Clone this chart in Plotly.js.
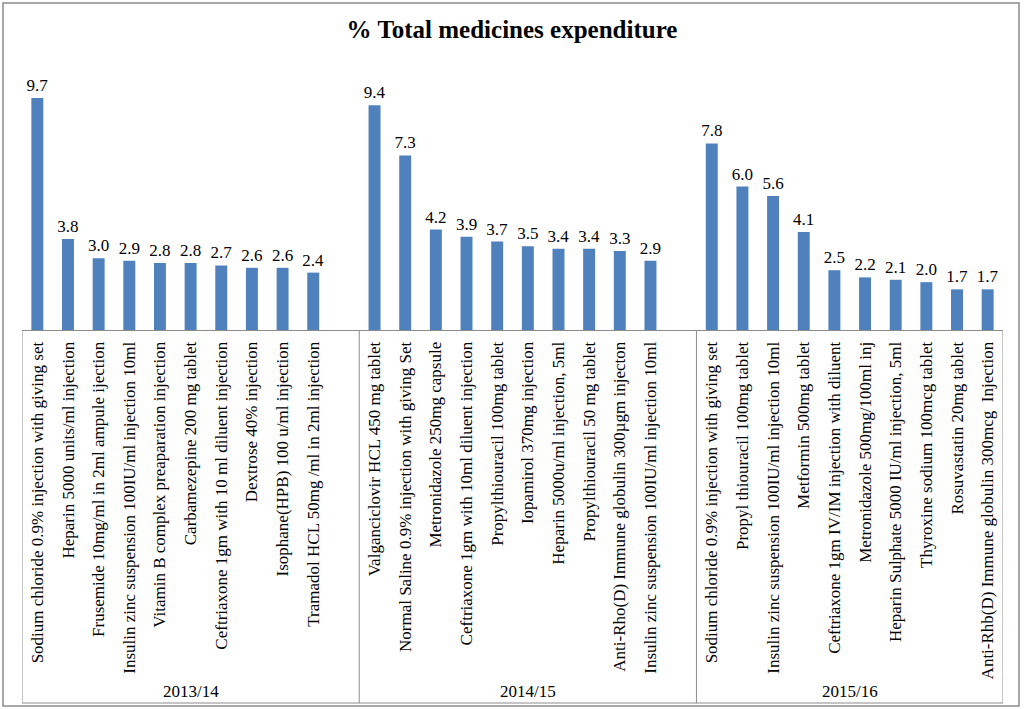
<!DOCTYPE html>
<html>
<head>
<meta charset="utf-8">
<script src="https://cdn.plot.ly/plotly-3.0.1.min.js"></script>
<style>html,body{margin:0;padding:0;background:#fff;}#chart{width:1024px;height:709px;}</style>
</head>
<body>
<div id="chart"></div>
<script>
var groups = ["2013/14", "2014/15", "2015/16"];

var cats2013 = [
  "Sodium chloride 0.9% injection with giving set",
  "Heparin 5000 units/ml injection",
  "Frusemide 10mg/ml in 2ml ampule ijection",
  "Insulin zinc suspension 100IU/ml injection 10ml",
  "Vitamin B complex preaparation injection",
  "Carbamezepine 200 mg tablet",
  "Ceftriaxone 1gm with 10 ml diluent injection",
  "Dextrose 40% injection",
  "Isophane(HPB) 100 u/ml injection",
  "Tramadol HCL 50mg /ml in 2ml injection"
];
var vals2013 = [9.7, 3.8, 3.0, 2.9, 2.8, 2.8, 2.7, 2.6, 2.6, 2.4];

var cats2014 = [
  "Valganciclovir HCL 450 mg tablet",
  "Normal Saline 0.9% injection with giving Set",
  "Metronidazole 250mg capsule",
  "Ceftriaxone 1gm with 10ml diluent injection",
  "Propylthiouracil 100mg tablet",
  "Iopamirol 370mg injection",
  "Heparin 5000u/ml injection, 5ml",
  "Propylthiouracil 50 mg tablet",
  "Anti-Rho(D) Immune globulin 300µgm injecton",
  "Insulin zinc suspension 100IU/ml injection 10ml"
];
var vals2014 = [9.4, 7.3, 4.2, 3.9, 3.7, 3.5, 3.4, 3.4, 3.3, 2.9];

var cats2015 = [
  "Sodium chloride 0.9% injection with giving set",
  "Propyl thiouracil 100mg tablet",
  "Insulin zinc suspension 100IU/ml injection 10ml",
  "Metformin 500mg tablet",
  "Ceftriaxone 1gm IV/IM injection with diluent",
  "Metronidazole 500mg/100ml inj",
  "Heparin Sulphate 5000 IU/ml injection, 5ml",
  "Thyroxine sodium 100mcg tablet",
  "Rosuvastatin 20mg tablet",
  "Anti-Rhb(D) Immune globulin 300mcg  Injection"
];
var vals2015 = [7.8, 6.0, 5.6, 4.1, 2.5, 2.2, 2.1, 2.0, 1.7, 1.7];

// the source chart leaves one blank category slot after each group except the last
var blankSlotsAfter = [1, 1, 0];

var catSets = [cats2013, cats2014, cats2015];
var valSets = [vals2013, vals2014, vals2015];

var xPos = [], yVals = [], tickVals = [], tickText = [];
var groupStart = [], groupEnd = [];
var slot = 0;
for (var g = 0; g < groups.length; g++) {
  groupStart.push(slot - 0.5);
  for (var i = 0; i < catSets[g].length; i++) {
    xPos.push(slot);
    yVals.push(valSets[g][i]);
    tickVals.push(slot);
    tickText.push(catSets[g][i]);
    slot++;
  }
  slot += blankSlotsAfter[g];
  groupEnd.push(slot - 0.5);
}

var serif = "Liberation Serif, Times New Roman, serif";
var gray = "#8c8c8c";

// layout geometry (pixels) for the box under the axis
var H = 709, plotTop = 43, plotBottom = 330;
var plotH = plotBottom - plotTop;
function py(p) { return (plotBottom - p) / plotH; }

var shapes = [];
var annotations = [];
var dividers = [groupStart[0]].concat(groupEnd);
dividers.forEach(function (xv) {
  shapes.push({type: "line", xref: "x", yref: "paper", x0: xv, x1: xv,
               y0: 0, y1: py(703), line: {color: gray, width: 1}});
});
shapes.push({type: "line", xref: "paper", yref: "paper", x0: 0, x1: 1,
             y0: py(703), y1: py(703), line: {color: gray, width: 1}});
shapes.push({type: "rect", xref: "paper", yref: "paper",
             x0: (3 - 22) / 981, x1: (1019 - 22) / 981, y0: py(706), y1: py(3),
             line: {color: "#8a8a8a", width: 1.5}});

for (var g2 = 0; g2 < groups.length; g2++) {
  annotations.push({
    xref: "x", yref: "paper",
    x: (groupStart[g2] + groupEnd[g2]) / 2, y: py(691),
    text: groups[g2], showarrow: false,
    xanchor: "center", yanchor: "middle",
    font: {family: serif, size: 17, color: "#000"}
  });
}

var trace = {
  type: "bar",
  x: xPos,
  y: yVals,
  marker: {color: "#4F81BD"},
  texttemplate: "%{y:.1f}",
  textposition: "outside",
  constraintext: "none",
  textfont: {family: serif, size: 17, color: "#000"},
  cliponaxis: false,
  hoverinfo: "y"
};

var layout = {
  width: 1024,
  height: H,
  margin: {l: 22, r: 21, t: plotTop, b: H - plotBottom},
  paper_bgcolor: "#fff",
  plot_bgcolor: "#fff",
  bargap: 0.61,
  showlegend: false,
  title: {
    text: "<b>% Total medicines expenditure</b>",
    font: {family: serif, size: 25, color: "#000"},
    x: 0.5, xanchor: "center",
    y: 1 - 29 / H, yanchor: "middle", yref: "container"
  },
  xaxis: {
    type: "linear",
    range: [groupStart[0], groupEnd[groupEnd.length - 1]],
    tickmode: "array",
    tickvals: tickVals,
    ticktext: tickText,
    tickangle: -90,
    tickfont: {family: serif, size: 17, color: "#000"},
    ticks: "",
    ticklabelstandoff: 4,
    showline: true,
    linecolor: gray,
    linewidth: 1,
    showgrid: false,
    zeroline: false
  },
  yaxis: {
    range: [0, 12],
    visible: false,
    showgrid: false,
    zeroline: false
  },
  shapes: shapes,
  annotations: annotations
};

Plotly.newPlot("chart", [trace], layout, {displayModeBar: false, staticPlot: true});
</script>
</body>
</html>
